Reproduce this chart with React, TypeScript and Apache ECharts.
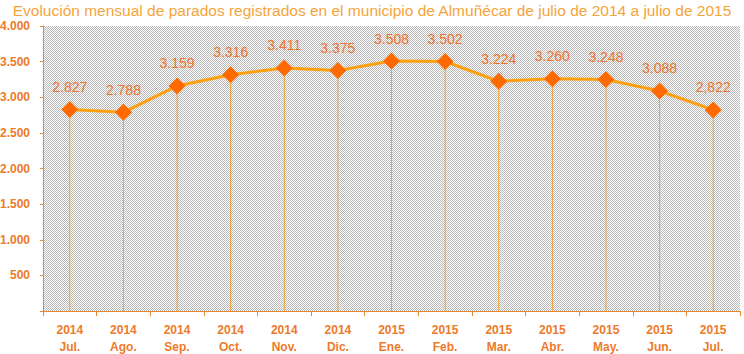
import React, { useEffect, useRef } from "react";
import * as echarts from "echarts";

const years = ["2014", "2014", "2014", "2014", "2014", "2014", "2015", "2015", "2015", "2015", "2015", "2015", "2015"];
const months = ["Jul.", "Ago.", "Sep.", "Oct.", "Nov.", "Dic.", "Ene.", "Feb.", "Mar.", "Abr.", "May.", "Jun.", "Jul."];
const parados = [2827, 2788, 3159, 3316, 3411, 3375, 3508, 3502, 3224, 3260, 3248, 3088, 2822];
const dataLabels = ["2.827", "2.788", "3.159", "3.316", "3.411", "3.375", "3.508", "3.502", "3.224", "3.260", "3.248", "3.088", "2,822"];
const titleText = "Evolución mensual de parados registrados en el municipio de Almuñécar de julio de 2014 a julio de 2015";

function makePattern(): any {
  const c = document.createElement("canvas");
  c.width = 2;
  c.height = 2;
  const ctx = c.getContext("2d")!;
  ctx.fillStyle = "#ffffff";
  ctx.fillRect(0, 0, 2, 2);
  ctx.fillStyle = "#b8b8b8";
  ctx.fillRect(0, 0, 1, 1);
  ctx.fillRect(1, 1, 1, 1);
  return { image: c, repeat: "repeat" };
}

export default function App() {
  const ref = useRef<HTMLDivElement>(null);
  useEffect(() => {
    if (!ref.current) return;
    const chart = echarts.init(ref.current, null, { renderer: "svg" });
    const categories = years.map((y, i) => y + "\n" + months[i]);
    const fontFamily = "Liberation Sans, Arial, sans-serif";
    chart.setOption({
      animation: false,
      backgroundColor: "#ffffff",
      title: {
        text: titleText,
        left: "center",
        top: 2,
        padding: 0,
        textStyle: { color: "#F5A43C", fontSize: 15.5, lineHeight: 17, fontWeight: "normal", fontFamily },
      },
      grid: {
        left: 43,
        right: 4,
        top: 26,
        bottom: 43,
        show: true,
        borderWidth: 0,
        outerBoundsMode: "none",
        containLabel: false,
        backgroundColor: makePattern(),
      },
      xAxis: {
        type: "category",
        data: categories,
        boundaryGap: true,
        axisLine: { lineStyle: { color: "#E8892F", width: 1 } },
        axisTick: { show: true, length: 5, lineStyle: { color: "#E8892F" } },
        axisLabel: {
          color: "#EE7A2A",
          fontWeight: "bold",
          fontSize: 12,
          fontFamily,
          lineHeight: 17,
          margin: 10,
          interval: 0,
        },
        splitLine: { show: false },
      },
      yAxis: {
        type: "value",
        min: 0,
        max: 4000,
        interval: 500,
        axisLine: { show: true, lineStyle: { color: "#E8892F", width: 1 } },
        axisTick: { show: true, length: 3, lineStyle: { color: "#E8892F" } },
        axisLabel: {
          color: "#EE7A2A",
          fontWeight: "bold",
          fontSize: 12,
          lineHeight: 13,
          fontFamily,
          margin: 13,
          formatter: (v: number) => (v === 0 ? "" : v >= 1000 ? Math.floor(v / 1000) + "." + String(v % 1000).padStart(3, "0") : String(v)),
        },
        splitLine: { show: false },
      },
      series: [
        {
          type: "bar",
          data: parados,
          barWidth: 1,
          itemStyle: { color: "#F5A030" },
          silent: true,
        },
        {
          type: "line",
          data: parados,
          symbol: "diamond",
          symbolSize: [17, 17],
          lineStyle: { color: "#FFA010", width: 3 },
          itemStyle: { color: "#FF6A00" },
          label: {
            show: true,
            position: "top",
            distance: 7,
            color: "#F0732E",
            fontSize: 14,
            fontFamily,
            formatter: (p: any) => dataLabels[p.dataIndex],
          },
          z: 5,
        },
      ],
    });
    return () => chart.dispose();
  }, []);
  return <div ref={ref} style={{ width: 744, height: 354, position: "absolute", left: 0, top: 0 }} />;
}
